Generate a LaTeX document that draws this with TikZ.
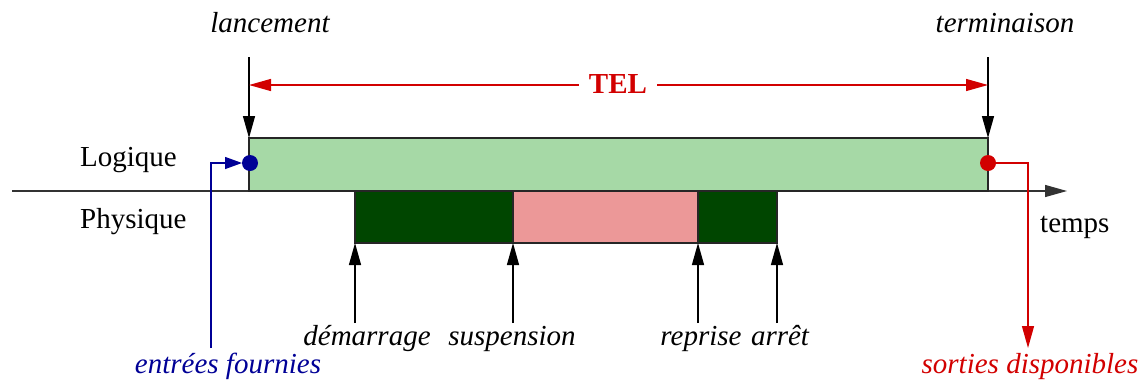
\documentclass[tikz,border=0pt]{standalone}
\usepackage{fontspec}
\setmainfont{Liberation Serif}
\usetikzlibrary{arrows.meta}
\definecolor{lgreen}{RGB}{166,217,166}
\definecolor{dgreen}{RGB}{0,70,0}
\definecolor{lpink}{RGB}{236,152,152}
\definecolor{myred}{RGB}{210,0,0}
\definecolor{myblue}{RGB}{0,0,150}
\begin{document}
\begin{tikzpicture}[x=1pt,y=-1pt,font=\fontsize{29}{34}\selectfont,
  tip/.style={-{Triangle[length=22pt,width=12pt]}},
  stip/.style={-{Triangle[length=17pt,width=12pt]}},
  lbl/.style={inner sep=0pt,anchor=base},
  bar/.style={draw=black!85,line width=1.3pt,inner sep=0pt,outer sep=0pt,anchor=north west,minimum height=52pt},
  dot/.style={circle,inner sep=0pt,outer sep=0pt,minimum size=16pt},
  ln/.style={line width=1.3pt}]
\useasboundingbox (0,0) rectangle (1143,381);
% axis
\coordinate (a0) at (12,191);
\coordinate (a1) at (1067,191);
\draw[ln,black!80,tip] (a0) -- (a1);
% logical bar
\node[bar,fill=lgreen,minimum width=739pt,minimum height=53pt] (log) at (249,138) {};
% physical bars
\node[bar,fill=dgreen,minimum width=158pt] (p1) at (355,191) {};
\node[bar,fill=lpink,minimum width=185pt] (p2) at (513,191) {};
\node[bar,fill=dgreen,minimum width=79pt] (p3) at (698,191) {};
% event arrows
\coordinate (u1) at (355,323);
\coordinate (u2) at (513,323);
\coordinate (u3) at (698,323);
\coordinate (u4) at (777,323);
\draw[ln,tip] (u1) -- (p1.south west);
\draw[ln,tip] (u2) -- (p2.south west);
\draw[ln,tip] (u3) -- (p3.south west);
\draw[ln,tip] (u4) -- (p3.south east);
\node[lbl,font=\fontsize{29}{34}\selectfont\itshape] (ldem) at (367,345) {démarrage};
\node[lbl,font=\fontsize{29}{34}\selectfont\itshape] (lsus) at (512,345) {suspension};
\node[lbl,font=\fontsize{29}{34}\selectfont\itshape] (lrep) at (701,345) {reprise};
\node[lbl,font=\fontsize{29}{34}\selectfont\itshape] (larr) at (780,345) {arrêt};
% lancement / terminaison
\coordinate (t1) at (249,57);
\coordinate (t2) at (988,57);
\draw[ln,tip] (t1) -- (log.north west);
\draw[ln,tip] (t2) -- (log.north east);
\node[lbl,font=\fontsize{29}{34}\selectfont\itshape] (llan) at (270,32) {lancement};
\node[lbl,font=\fontsize{29}{34}\selectfont\itshape] (lter) at (1005,32) {terminaison};
% TEL
\node[inner sep=0pt,font=\fontsize{29}{34}\selectfont\bfseries,text=myred] (tel) at (618,84) {TEL};
\coordinate (e1) at (249,85);
\coordinate (e2) at (988,85);
\draw[ln,myred,tip] ([xshift=-10pt]tel.west |- e1) -- (e1);
\draw[ln,myred,tip] ([xshift=10pt]tel.east |- e2) -- (e2);
% side labels
\node[lbl,anchor=base west] (llog) at (80,166) {Logique};
\node[lbl,anchor=base west] (lphy) at (80,228) {Physique};
\node[lbl,anchor=base west] (ltem) at (1040,232) {temps};
% inputs
\node[dot,fill=myblue] (bdot) at (250,163) {};
\coordinate (bs) at (211,348);
\draw[ln,myblue,stip] (bs) |- (bdot.west);
\node[lbl,font=\fontsize{29}{34}\selectfont\itshape,text=myblue] (lin) at (228,373) {entrées fournies};
% outputs
\node[dot,fill=myred] (rdot) at (988,163) {};
\coordinate (re) at (1028,348);
\draw[ln,myred,tip] (rdot.east) -| (re);
\node[lbl,font=\fontsize{29}{34}\selectfont\itshape,text=myred] (lout) at (1030,373) {sorties disponibles};
\end{tikzpicture}
\end{document}
